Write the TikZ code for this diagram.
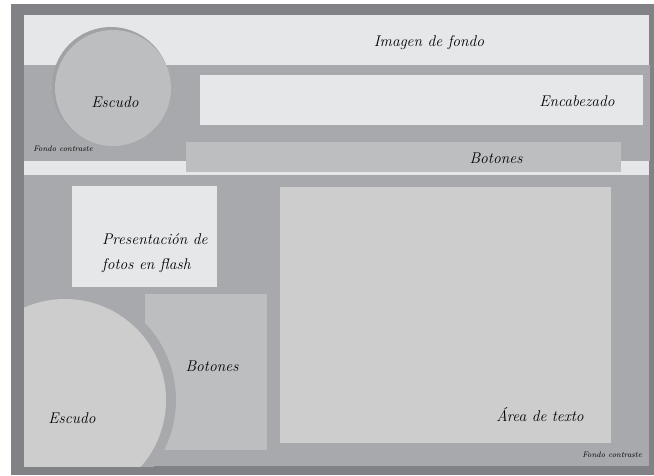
\documentclass[tikz,border=0pt]{standalone}
\usepackage{fontspec}

\definecolor{Cframe}{HTML}{808285}
\definecolor{Clight}{HTML}{E6E7E8}
\definecolor{Cband}{HTML}{A7A9AC}
\definecolor{Cmid}{HTML}{BCBEC0}
\definecolor{Carea}{HTML}{CDCDCE}
\definecolor{Cshade}{HTML}{A0A2A5}

\tikzset{
  label text/.style={font=\itshape\fontsize{15.5}{25}\selectfont, text=black, inner sep=0pt},
  small text/.style={font=\itshape\fontsize{8}{9}\selectfont, text=black, inner sep=0pt}
}

\begin{document}
\begin{tikzpicture}[x=1pt,y=-1pt]
\useasboundingbox (0,0) rectangle (654,475);
% marco y fondos
\fill[Cframe] (11,4) rectangle (654,475);
\fill[Clight] (24,15) rectangle (649,175);
\fill[Cband] (24,65) rectangle (650,161);
\fill[Cband] (24,175) rectangle (649,466);
% cabecera
\fill[Cshade] (111,86) circle (59);
\fill[Cmid] (113,88) circle (58);
\fill[Clight] (200,75) rectangle (643,125);
\fill[Cmid] (186,142) rectangle (621,172);
% cuerpo
\fill[Clight] (72,186) rectangle (217,287);
\fill[Cmid] (145,294) rectangle (267,450);
\fill[Carea] (280,187) rectangle (611,443);
\begin{scope}
  \clip (24,175) rectangle (649,466);
  \fill[Cband] (65,400) circle (111);
  \fill[Carea] (65,400) circle (101);
\end{scope}
% textos
\node[label text] (imagen) at (429,43) {Imagen de fondo};
\node[label text] (encabezado) at (577,101) {Encabezado};
\node[label text] (botonessup) at (496,158) {Botones};
\node[label text] (escudosup) at (115,102) {Escudo};
\node[small text] (fondosup) at (63,149) {Fondo contraste};
\node[label text, align=left, anchor=west] (presentacion) at (102,253) {Presentación de\\fotos en flash};
\node[label text] (botonesinf) at (212,366) {Botones};
\node[label text] (escudoinf) at (72,418) {Escudo};
\node[label text] (area) at (540,415) {Área de texto};
\node[small text] (fondoinf) at (612,455) {Fondo contraste};
\end{tikzpicture}
\end{document}
